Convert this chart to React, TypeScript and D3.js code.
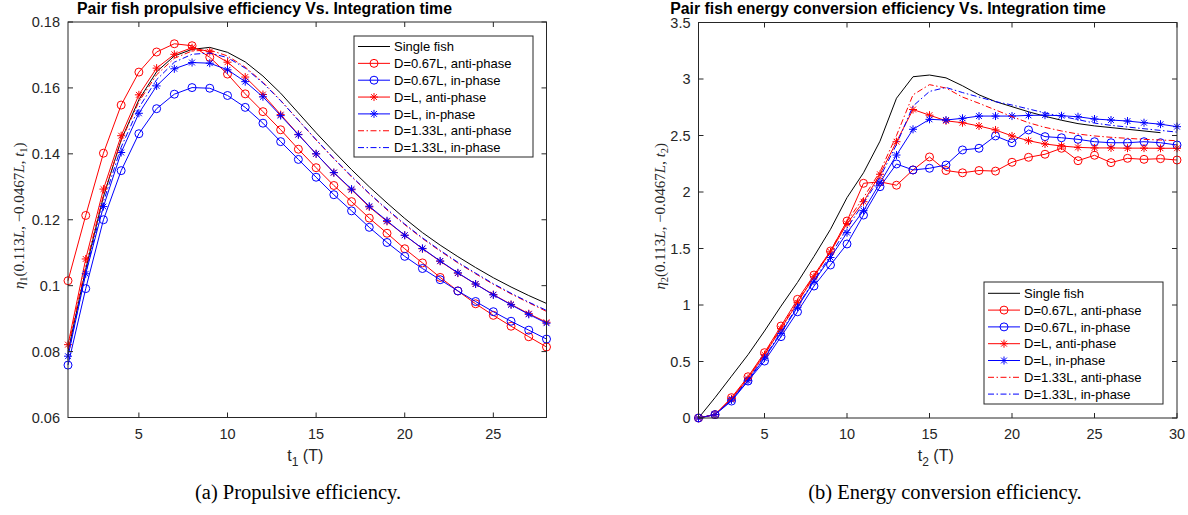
import React from 'react';
import * as d3 from 'd3';

// ---------- data: left panel (propulsive efficiency) ----------
const T1 = [1, 2, 3, 4, 5, 6, 7, 8, 9, 10, 11, 12, 13, 14, 15, 16, 17, 18, 19, 20, 21, 22, 23, 24, 25, 26, 27, 28];
const singleFish1 = [0.0800, 0.1050, 0.1270, 0.1442, 0.1564, 0.1649, 0.1697, 0.1717, 0.1723, 0.1708, 0.1679, 0.1636, 0.1584, 0.1524, 0.1464, 0.1407, 0.1352, 0.1300, 0.1251, 0.1204, 0.1161, 0.1123, 0.1088, 0.1055, 0.1024, 0.0996, 0.0970, 0.0946];
const d067Anti1 = [0.1015, 0.1213, 0.1402, 0.1548, 0.1648, 0.1709, 0.1734, 0.1728, 0.1693, 0.1642, 0.1582, 0.1528, 0.1473, 0.1414, 0.1358, 0.1304, 0.1255, 0.1205, 0.1159, 0.1112, 0.1069, 0.1025, 0.0984, 0.0945, 0.0910, 0.0877, 0.0845, 0.0814];
const d067In1 = [0.0759, 0.0991, 0.1200, 0.1349, 0.1461, 0.1537, 0.1581, 0.1601, 0.1599, 0.1577, 0.1541, 0.1493, 0.1437, 0.1383, 0.1329, 0.1276, 0.1227, 0.1177, 0.1131, 0.1089, 0.1052, 0.1018, 0.0984, 0.0952, 0.0921, 0.0892, 0.0865, 0.0838];
const dLAnti1 = [0.0821, 0.1081, 0.1293, 0.1455, 0.1579, 0.1660, 0.1702, 0.1722, 0.1710, 0.1678, 0.1633, 0.1580, 0.1519, 0.1459, 0.1400, 0.1343, 0.1291, 0.1239, 0.1195, 0.1153, 0.1112, 0.1074, 0.1038, 0.1005, 0.0973, 0.0943, 0.0915, 0.0889];
const dLIn1 = [0.0786, 0.1036, 0.1240, 0.1404, 0.1523, 0.1606, 0.1658, 0.1677, 0.1675, 0.1655, 0.1619, 0.1573, 0.1516, 0.1458, 0.1400, 0.1343, 0.1293, 0.1241, 0.1197, 0.1153, 0.1113, 0.1075, 0.1039, 0.1005, 0.0972, 0.0942, 0.0913, 0.0886];
const d133Anti1 = [0.0810, 0.1060, 0.1275, 0.1440, 0.1558, 0.1640, 0.1690, 0.1712, 0.1715, 0.1697, 0.1663, 0.1617, 0.1562, 0.1502, 0.1442, 0.1385, 0.1330, 0.1279, 0.1230, 0.1185, 0.1143, 0.1105, 0.1069, 0.1036, 0.1004, 0.0975, 0.0948, 0.0922];
const d133In1 = [0.0790, 0.1040, 0.1255, 0.1420, 0.1540, 0.1625, 0.1678, 0.1702, 0.1706, 0.1692, 0.1660, 0.1615, 0.1561, 0.1502, 0.1443, 0.1386, 0.1332, 0.1280, 0.1232, 0.1187, 0.1145, 0.1107, 0.1071, 0.1038, 0.1006, 0.0977, 0.0950, 0.0925];
const xTicks1 = [5, 10, 15, 20, 25];
const yTicks1 = [0.06, 0.08, 0.1, 0.12, 0.14, 0.16, 0.18];

// ---------- data: right panel (energy conversion efficiency) ----------
const T2 = [1, 2, 3, 4, 5, 6, 7, 8, 9, 10, 11, 12, 13, 14, 15, 16, 17, 18, 19, 20, 21, 22, 23, 24, 25, 26, 27, 28, 29, 30];
const singleFish2 = [0, 0.18, 0.37, 0.56, 0.77, 0.99, 1.20, 1.43, 1.67, 1.95, 2.17, 2.45, 2.83, 3.02, 3.035, 3.01, 2.94, 2.86, 2.80, 2.755, 2.71, 2.67, 2.635, 2.605, 2.585, 2.57, 2.555, 2.54, 2.525];
const d067Anti2 = [0, 0.03, 0.18, 0.365, 0.578, 0.814, 1.05, 1.265, 1.478, 1.743, 2.077, 2.09, 2.06, 2.195, 2.31, 2.19, 2.17, 2.19, 2.185, 2.263, 2.307, 2.334, 2.387, 2.277, 2.325, 2.26, 2.298, 2.289, 2.295, 2.283];
const d067In2 = [0, 0.03, 0.15, 0.327, 0.504, 0.72, 0.94, 1.168, 1.354, 1.54, 1.796, 2.047, 2.248, 2.195, 2.21, 2.239, 2.372, 2.387, 2.496, 2.436, 2.549, 2.49, 2.48, 2.466, 2.445, 2.436, 2.436, 2.445, 2.436, 2.416];
const dLAnti2 = [0, 0.03, 0.17, 0.35, 0.56, 0.79, 1.02, 1.25, 1.47, 1.72, 1.914, 2.157, 2.445, 2.73, 2.68, 2.63, 2.613, 2.584, 2.549, 2.496, 2.454, 2.425, 2.407, 2.395, 2.39, 2.39, 2.388, 2.388, 2.387, 2.387];
const dLIn2 = [0, 0.03, 0.16, 0.33, 0.53, 0.75, 0.98, 1.21, 1.42, 1.64, 1.835, 2.08, 2.327, 2.555, 2.643, 2.637, 2.652, 2.672, 2.672, 2.672, 2.678, 2.68, 2.675, 2.666, 2.646, 2.637, 2.628, 2.613, 2.6, 2.578];
const d133Anti2 = [0, 0.03, 0.17, 0.36, 0.57, 0.80, 1.03, 1.26, 1.48, 1.74, 1.95, 2.18, 2.50, 2.86, 2.95, 2.92, 2.84, 2.785, 2.726, 2.667, 2.613, 2.572, 2.54, 2.513, 2.496, 2.484, 2.475, 2.466, 2.46, 2.454];
const d133In2 = [0, 0.03, 0.16, 0.34, 0.54, 0.76, 0.99, 1.22, 1.44, 1.68, 1.90, 2.13, 2.42, 2.76, 2.89, 2.925, 2.88, 2.84, 2.80, 2.77, 2.735, 2.70, 2.67, 2.64, 2.61, 2.59, 2.575, 2.56, 2.545, 2.53];
const xTicks2 = [5, 10, 15, 20, 25, 30];
const yTicks2 = [0, 0.5, 1, 1.5, 2, 2.5, 3, 3.5];

const legendNames = [
  'Single fish',
  'D=0.67L, anti-phase',
  'D=0.67L, in-phase',
  'D=L, anti-phase',
  'D=L, in-phase',
  'D=1.33L, anti-phase',
  'D=1.33L, in-phase',
];

const RED = '#ff0000';
const BLUE = '#0000ff';
const AX = '#262626';
const SANS = '"Liberation Sans", Arial, Helvetica, sans-serif';
const SERIF = '"Liberation Serif", "Times New Roman", serif';
const DASHDOT = '6 2.5 1.5 2.5';

type Style = { color: string; marker: 'none' | 'circle' | 'star'; dash?: string };
const styles: Style[] = [
  { color: '#000000', marker: 'none' },
  { color: RED, marker: 'circle' },
  { color: BLUE, marker: 'circle' },
  { color: RED, marker: 'star' },
  { color: BLUE, marker: 'star' },
  { color: RED, marker: 'none', dash: DASHDOT },
  { color: BLUE, marker: 'none', dash: DASHDOT },
];

function Marker({ kind, x, y, color }: { kind: string; x: number; y: number; color: string }) {
  if (kind === 'circle') {
    return <circle cx={x} cy={y} r={4} fill="none" stroke={color} strokeWidth={1} />;
  }
  if (kind === 'star') {
    const s = 4;
    const d = 2.9;
    return (
      <path
        d={`M${x - s},${y}H${x + s}M${x},${y - s}V${y + s}M${x - d},${y - d}L${x + d},${y + d}M${x - d},${y + d}L${x + d},${y - d}`}
        stroke={color}
        strokeWidth={1}
        fill="none"
      />
    );
  }
  return null;
}

type PanelProps = {
  x0: number; x1: number; y0: number; y1: number;
  xDomain: [number, number]; yDomain: [number, number];
  xTicks: number[]; yTicks: number[];
  t: number[]; seriesValues: number[][];
  legendBox: { x: number; y: number; w: number; h: number; firstY: number; step: number };
  title: string; titleX: number;
  sub: string; yLabelX: number;
  caption: string; captionX: number;
};

function Panel(p: PanelProps) {
  const x = d3.scaleLinear().domain(p.xDomain).range([p.x0, p.x1]);
  const y = d3.scaleLinear().domain(p.yDomain).range([p.y1, p.y0]);
  const line = d3.line<[number, number]>().x((d) => x(d[0])).y((d) => y(d[1]));
  const tl = 5;
  const lb = p.legendBox;
  const cx = (p.x0 + p.x1) / 2;
  const cy = (p.y0 + p.y1) / 2;
  return (
    <g>
      {/* title */}
      <text x={p.titleX} y={13.5} textAnchor="middle" fontFamily={SANS} fontWeight="bold" fontSize={15.8} fill="#000">
        {p.title}
      </text>
      {/* series */}
      {p.seriesValues.map((vals, i) => {
        const st = styles[i];
        const pts: [number, number][] = vals.map((v, j) => [p.t[j], v]);
        return (
          <g key={i}>
            <path d={line(pts) || ''} fill="none" stroke={st.color} strokeWidth={1} strokeDasharray={st.dash} />
            {st.marker !== 'none' && pts.map((d, j) => <Marker key={j} kind={st.marker} x={x(d[0])} y={y(d[1])} color={st.color} />)}
          </g>
        );
      })}
      {/* axes box */}
      <rect x={p.x0} y={p.y0} width={p.x1 - p.x0} height={p.y1 - p.y0} fill="none" stroke={AX} strokeWidth={1} />
      {p.xTicks.map((v) => (
        <g key={'xt' + v}>
          <line x1={x(v)} x2={x(v)} y1={p.y1} y2={p.y1 - tl} stroke={AX} />
          <line x1={x(v)} x2={x(v)} y1={p.y0} y2={p.y0 + tl} stroke={AX} />
          <text x={x(v)} y={p.y1 + 21} textAnchor="middle" fontFamily={SANS} fontSize={14.5} fill={AX}>
            {v}
          </text>
        </g>
      ))}
      {p.yTicks.map((v) => (
        <g key={'yt' + v}>
          <line x1={p.x0} x2={p.x0 + tl} y1={y(v)} y2={y(v)} stroke={AX} />
          <line x1={p.x1} x2={p.x1 - tl} y1={y(v)} y2={y(v)} stroke={AX} />
          <text x={p.x0 - 8} y={y(v)} dy="0.36em" textAnchor="end" fontFamily={SANS} fontSize={14.5} fill={AX}>
            {String(v)}
          </text>
        </g>
      ))}
      {/* x label */}
      <text x={cx - 2} y={461} textAnchor="middle" fontFamily={SANS} fontSize={16} fill={AX}>
        <tspan>t</tspan>
        <tspan dy={5} fontSize={12}>{p.sub}</tspan>
        <tspan dy={-5}> (T)</tspan>
      </text>
      {/* y label */}
      <text transform={`translate(${p.yLabelX},${cy - 4}) rotate(-90)`} textAnchor="middle" fontFamily={SERIF} fontSize={15} fill={AX}>
        <tspan fontStyle="italic">η</tspan>
        <tspan dy={3} fontSize={10.5}>{p.sub}</tspan>
        <tspan dy={-3}>(0.113</tspan>
        <tspan fontStyle="italic">L</tspan>
        <tspan>, −0.0467</tspan>
        <tspan fontStyle="italic">L</tspan>
        <tspan>, </tspan>
        <tspan fontStyle="italic">t</tspan>
        <tspan dy={3} fontSize={10.5}>{p.sub}</tspan>
        <tspan dy={-3}>)</tspan>
      </text>
      {/* legend */}
      <rect x={lb.x} y={lb.y} width={lb.w} height={lb.h} fill="#ffffff" stroke={AX} strokeWidth={1} />
      {legendNames.map((name, i) => {
        const st = styles[i];
        const ly = lb.firstY + i * lb.step;
        const lx0 = lb.x + 4;
        const lx1 = lb.x + 36;
        return (
          <g key={'lg' + i}>
            <line x1={lx0} x2={lx1} y1={ly} y2={ly} stroke={st.color} strokeWidth={1} strokeDasharray={st.dash} />
            {st.marker !== 'none' && <Marker kind={st.marker} x={(lx0 + lx1) / 2} y={ly} color={st.color} />}
            <text x={lb.x + 40} y={ly} dy="0.36em" fontFamily={SANS} fontSize={13} fill="#000">
              {name}
            </text>
          </g>
        );
      })}
      {/* caption */}
      <text x={p.captionX} y={499} textAnchor="middle" fontFamily={SERIF} fontSize={20.5} fill="#000">
        {p.caption}
      </text>
    </g>
  );
}

export default function App() {
  return (
    <svg
      width={1188}
      height={515}
      viewBox="0 0 1188 515"
      style={{ position: 'absolute', left: 0, top: 0, background: '#ffffff' }}
    >
      <rect x={0} y={0} width={1188} height={515} fill="#ffffff" />
      <Panel
        x0={68} x1={546.5} y0={22} y1={417.5}
        xDomain={[1, 28]} yDomain={[0.06, 0.18]}
        xTicks={xTicks1} yTicks={yTicks1}
        t={T1}
        seriesValues={[singleFish1, d067Anti1, d067In1, dLAnti1, dLIn1, d133Anti1, d133In1]}
        legendBox={{ x: 354, y: 36, w: 179, h: 121, firstY: 46.5, step: 16.85 }}
        title="Pair fish propulsive efficiency Vs. Integration time" titleX={264.5}
        sub="1" yLabelX={24}
        caption="(a)  Propulsive efficiency." captionX={298}
      />
      <Panel
        x0={698.5} x1={1177} y0={22.5} y1={418}
        xDomain={[1, 30]} yDomain={[0, 3.5]}
        xTicks={xTicks2} yTicks={yTicks2}
        t={T2}
        seriesValues={[singleFish2, d067Anti2, d067In2, dLAnti2, dLIn2, d133Anti2, d133In2]}
        legendBox={{ x: 984, y: 282, w: 179, h: 122, firstY: 293.3, step: 16.8 }}
        title="Pair fish energy conversion efficiency Vs. Integration time" titleX={888}
        sub="2" yLabelX={665}
        caption="(b)  Energy conversion efficiency." captionX={945}
      />
    </svg>
  );
}
